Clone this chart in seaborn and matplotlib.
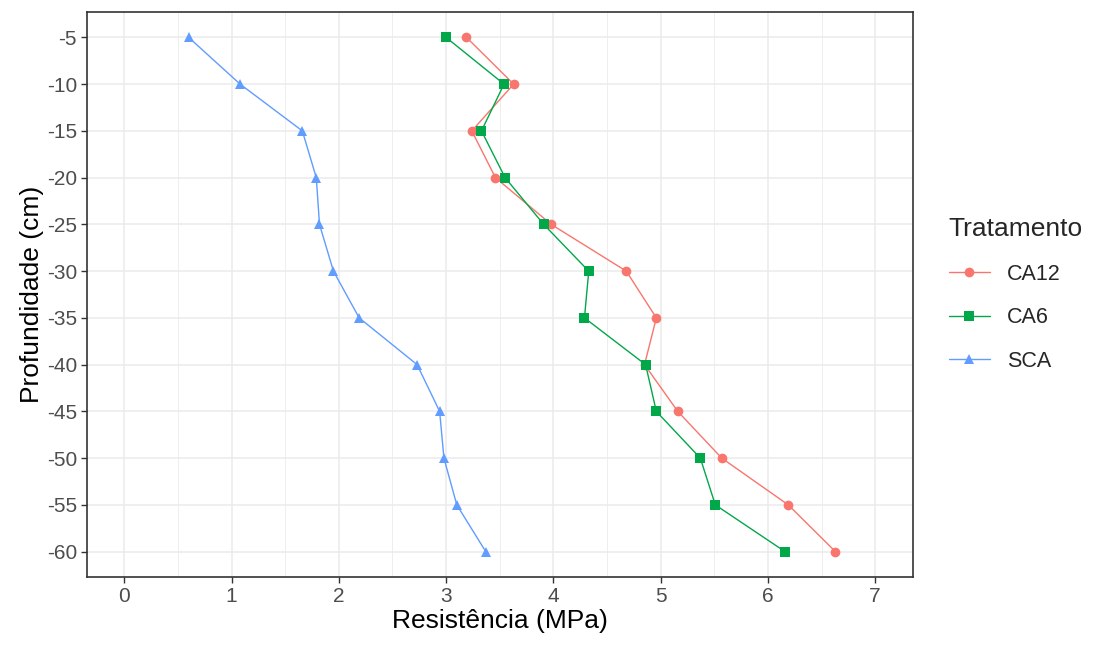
import pandas as pd
import seaborn as sns
import matplotlib.pyplot as plt
from matplotlib.ticker import MultipleLocator

# Depth (cm) and penetration resistance (MPa) per treatment
profundidade = [-5, -10, -15, -20, -25, -30, -35, -40, -45, -50, -55, -60]
ca12 = [3.19, 3.63, 3.24, 3.46, 3.98, 4.68, 4.96, 4.85, 5.16, 5.57, 6.19, 6.63]
ca6 = [3.00, 3.54, 3.33, 3.55, 3.91, 4.33, 4.29, 4.86, 4.96, 5.37, 5.51, 6.16]
sca = [0.60, 1.08, 1.66, 1.79, 1.82, 1.95, 2.19, 2.73, 2.94, 2.98, 3.10, 3.37]
tratamentos = ['CA12', 'CA6', 'SCA']

df = pd.concat([
    pd.DataFrame({'Tratamento': t, 'Profundidade': profundidade, 'Resistencia': v})
    for t, v in zip(tratamentos, [ca12, ca6, sca])
])

sns.set_style("white")
plt.rcParams['font.family'] = ['Liberation Sans', 'DejaVu Sans']
plt.rcParams['axes.unicode_minus'] = False

fig = plt.figure(figsize=(10.99, 6.48), dpi=100)
ax = fig.add_axes([0.0789, 0.109, 0.7516, 0.873])

palette = {'CA12': '#F8766D', 'CA6': '#00A84A', 'SCA': '#619CFF'}
markers = {'CA12': 'o', 'CA6': 's', 'SCA': '^'}

sns.lineplot(data=df, x='Resistencia', y='Profundidade', hue='Tratamento',
             style='Tratamento', markers=markers, dashes=False, sort=False,
             palette=palette, hue_order=tratamentos, style_order=tratamentos,
             linewidth=1.0, markersize=7, markeredgewidth=0, ax=ax, zorder=3)

# Axis limits with ggplot-like expansion
ax.set_xlim(-0.35, 7.35)
ax.set_ylim(-62.75, -2.25)
ax.set_xticks(range(0, 8))
ax.set_yticks(profundidade)
ax.xaxis.set_minor_locator(MultipleLocator(0.5))

ax.grid(which='major', color='#EBEBEB', linewidth=1.1, zorder=0)
ax.grid(which='minor', axis='x', color='#EBEBEB', linewidth=0.6, zorder=0)
ax.set_axisbelow(True)

for s in ax.spines.values():
    s.set_visible(True)
    s.set_color('#333333')
    s.set_linewidth(1.2)

ax.tick_params(axis='both', which='major', direction='out', length=4, width=1,
               color='#333333', labelsize=15, labelcolor='#4D4D4D', pad=3,
               bottom=True, left=True)
ax.tick_params(which='minor', length=0)

ax.set_xlabel('Resistência (MPa)', fontsize=19, color='black', labelpad=2)
ax.set_ylabel('Profundidade (cm)', fontsize=19, color='black', labelpad=2)

sns.move_legend(ax, 'center left', bbox_to_anchor=(1.02, 0.5), frameon=False,
                title='Tratamento', fontsize=15.5, title_fontsize=19,
                handlelength=1.9, labelspacing=1.05, alignment='left')

plt.savefig('out.png', dpi=100)
